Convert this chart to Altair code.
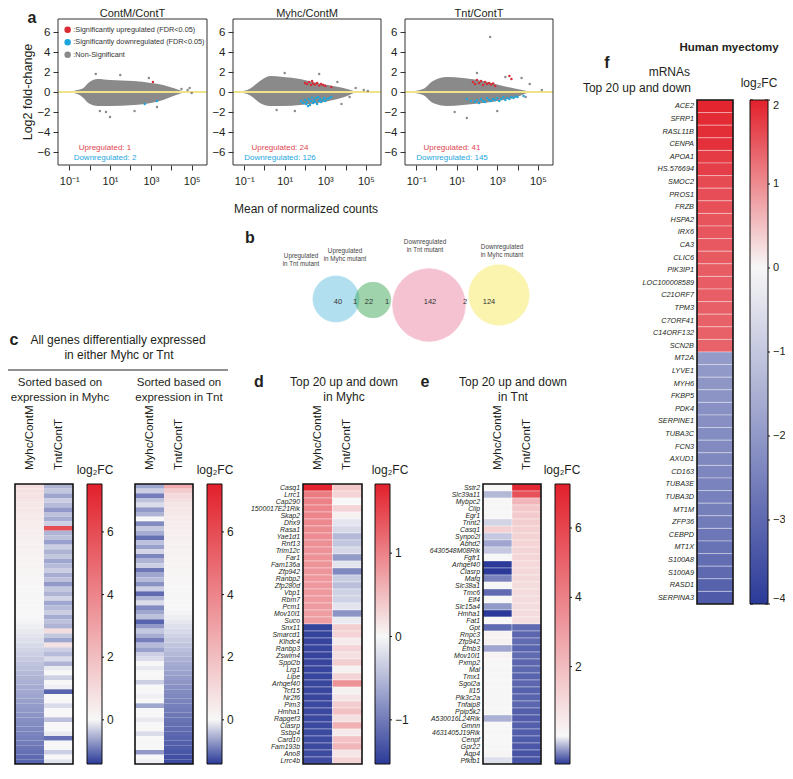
import math
import altair as alt
import pandas as pd

W, H = 777, 757
M = 8
FONT = "Liberation Sans"
INK = "#231f20"
RED, WHITE, BLUE = "#e2202b", "#f7f7f7", "#2b3a98"
MA_RED, MA_BLUE, MA_GRAY = "#d92a35", "#1ea6dc", "#8a8a8a"


def P(v):
    return v - M


# ------------------------------------------------------------------ panel a
ma_titles = ["ContM/ContT", "Myhc/ContM", "Tnt/ContT"]
up_counts = [1, 24, 41]
down_counts = [2, 126, 145]

# gray cloud envelope: log10(mean count), upper / lower log2FC edge
cloud1_e = [-1.1, -0.6, -0.3, -0.07, 0.4, 1.0, 2.15, 3.0, 3.6, 4.1, 4.45, 4.7]
cloud1_hi = [0.0, 0.2, 0.4, 0.9, 1.3, 1.2, 1.1, 0.9, 0.7, 0.4, 0.15, 0.0]
cloud1_lo = [0.0, -0.2, -0.6, -1.1, -1.4, -1.4, -1.3, -1.1, -0.8, -0.4, -0.15, 0.0]
cloud2_e = [-1.3, -0.7, -0.22, 0.28, 0.92, 1.76, 2.6, 3.39, 4.08, 4.4, 4.6]
cloud2_hi = [0.0, 0.35, 1.1, 1.6, 1.5, 1.3, 0.9, 0.6, 0.3, 0.1, 0.0]
cloud2_lo = [0.0, -0.35, -1.1, -1.4, -1.4, -1.3, -1.1, -0.8, -0.4, -0.1, 0.0]
cloud3_e = [-1.45, -0.66, -0.17, 0.52, 1.31, 2.3, 3.29, 3.98, 4.47, 4.7]
cloud3_hi = [0.0, 0.3, 1.1, 1.5, 1.4, 1.1, 0.6, 0.3, 0.1, 0.0]
cloud3_lo = [0.0, -0.3, -1.1, -1.4, -1.3, -1.1, -0.8, -0.5, -0.1, 0.0]

ns1_e = [0.3, 0.5, 0.8, 1.0, 1.5, 2.2, 2.9, 3.3, 4.5, 4.8, 4.9, 5.0]
ns1_fc = [1.8, -1.9, -2.0, -2.5, 1.7, -1.9, 1.4, -1.5, 0.3, 0.2, 0.4, -0.1]
up1_e = [3.1]
up1_fc = [1.0]
dn1_e = [2.7, 3.3]
dn1_fc = [-1.2, -0.9]

ns2_e = [0.6, 1.0, 1.5, 2.7, 3.6, 3.8, 4.2, 4.5, 4.9, 5.1]
ns2_fc = [-1.8, 1.9, -1.9, 1.8, 1.0, -1.2, -0.5, 0.4, 0.2, 0.1]
up2_e = [2.0, 2.1, 2.2, 2.3, 2.35, 2.4, 2.5, 2.6, 2.7, 2.8, 2.9, 3.0, 3.3]
up2_fc = [0.9, 0.8, 1.0, 0.7, 1.1, 0.85, 0.75, 0.9, 0.65, 0.8, 0.7, 0.6, 0.5]
dn2_e = [1.8, 1.9, 2.0, 2.05, 2.1, 2.15, 2.2, 2.25, 2.3, 2.35, 2.4, 2.45, 2.5,
         2.55, 2.6, 2.65, 2.7, 2.75, 2.8, 2.9, 2.95, 3.0, 3.1, 3.2, 3.3]
dn2_fc = [-0.9, -1.1, -0.8, -1.2, -1.0, -1.4, -0.7, -1.3, -0.9, -0.55, -1.1, -0.8, -1.0,
          -0.6, -1.2, -0.5, -0.9, -0.7, -1.0, -0.8, -0.6, -0.9, -0.7, -0.6, -0.5]

ns3_e = [0.9, 1.5, 2.0, 2.65, 3.0, 3.4, 4.2, 4.4, 4.6, 5.2]
ns3_fc = [-2.0, -2.6, 1.9, 5.5, -1.9, 1.5, 1.4, -0.5, 0.8, 0.2]
up3_e = [1.8, 1.9, 2.0, 2.1, 2.2, 2.3, 2.4, 2.5, 2.6, 2.7, 2.8, 2.9, 3.6, 3.7]
up3_fc = [1.0, 0.8, 1.2, 0.9, 1.1, 0.7, 1.0, 0.8, 0.9, 0.75, 0.85, 0.6, 1.6, 1.3]
dn3_e = [1.5, 1.7, 1.9, 2.0, 2.1, 2.2, 2.3, 2.4, 2.5, 2.6, 2.7, 2.8, 2.9,
         3.0, 3.1, 3.2, 3.3, 3.4, 3.5, 3.6, 3.7, 3.8, 3.9, 4.0, 4.3]
dn3_fc = [-0.7, -0.9, -1.0, -0.8, -1.1, -0.7, -0.9, -1.0, -0.6, -0.8, -0.9, -0.7, -0.8,
          -0.6, -0.9, -0.7, -0.5, -0.8, -0.6, -0.7, -0.5, -0.6, -0.45, -0.5, -0.4]

# ------------------------------------------------------------------ panel b
venn_sets = ["Upregulated in Tnt mutant", "Upregulated in Myhc mutant",
             "Downregulated in Tnt mutant", "Downregulated in Myhc mutant"]
venn_colors = ["#67c1e1", "#3fa95b", "#ed87a5", "#f7eb61"]
venn_x = [56, 93, 149, 219]
venn_y = [64, 65, 70, 60]
venn_r = [26, 20, 41, 34]
venn_counts = [40, 1, 22, 1, 142, 2, 124]
venn_count_x = [58, 75, 89, 107, 150, 185, 209]

# ------------------------------------------------------------------ panel c
c1_myhc = [0.9, 0.78, 0.7, 0.63, 0.57, 0.52, 0.47, 0.43, 0.39, 0.35,
           0.32, 0.29, 0.26, 0.23, 0.2, 0.18, 0.16, 0.14, 0.12, 0.1,
           0.08, 0.06, 0.05, 0.04, 0.03, 0.02, 0.01, 0.0, 0.0, -0.02,
           -0.06, -0.1, -0.14, -0.18, -0.22, -0.26, -0.3, -0.34, -0.38, -0.42,
           -0.46, -0.5, -0.53, -0.56, -0.59, -0.62, -0.65, -0.68, -0.71, -0.74,
           -0.77, -0.8, -0.83, -0.86, -0.89, -0.92, -0.96, -1.0, -1.05, -1.1]
c1_tnt = [-0.5, -0.35, -0.6, -0.3, -0.45, -0.7, -0.4, -0.55, -0.3, 6.0,
          -0.5, -0.4, -0.65, -0.3, -0.5, -0.35, -0.6, -0.45, -0.3, -0.55,
          -0.4, -0.7, -0.35, -0.5, -0.25, -0.6, -0.45, -0.3, -0.55, -0.4,
          -0.5, 0.9, -0.35, -0.6, 0.7, -0.3, -0.45, -0.2, -0.5, -0.1,
          0.0, -0.3, 0.0, -0.05, -1.1, 0.0, 0.05, -0.2, 0.0, 0.0,
          -0.4, 0.0, 0.0, -0.1, -1.0, 0.0, 0.05, -0.3, 0.0, -0.15]
c2_myhc = [-0.6, -0.3, -0.9, -0.4, -0.2, -0.7, -0.5, 0.0, -0.8, -0.35,
           -0.55, -1.0, -0.4, -0.65, -0.25, -0.85, -0.5, -0.3, -0.95, -0.6,
           -0.45, -0.75, -0.3, -1.05, -0.5, -0.2, -0.8, -0.6, -0.4, -1.1,
           -0.7, -0.35, -0.55, -0.9, -0.45, -0.65, -0.3, -0.2, 0.0, -0.1,
           0.0, 0.05, -0.3, 0.0, 0.0, -0.05, 0.0, -0.6, 0.0, 0.0,
           -0.1, 0.0, 0.0, -0.2, 0.0, 0.05, 0.0, -0.7, 0.0, -0.05]
c2_tnt = [2.6, 1.5, 1.0, 0.8, 0.65, 0.55, 0.48, 0.42, 0.37, 0.33,
          0.3, 0.27, 0.24, 0.21, 0.19, 0.17, 0.15, 0.13, 0.11, 0.09,
          0.07, 0.05, 0.04, 0.03, 0.02, 0.01, 0.0, -0.03, -0.07, -0.12,
          -0.17, -0.22, -0.27, -0.32, -0.37, -0.42, -0.47, -0.52, -0.56, -0.6,
          -0.64, -0.68, -0.72, -0.76, -0.8, -0.83, -0.86, -0.89, -0.92, -0.95,
          -0.98, -1.01, -1.04, -1.07, -1.1, -1.13, -1.16, -1.2, -1.25, -1.3]

# ------------------------------------------------------------------ panel d
d_genes = ["Casq1", "Lrrc1", "Cap290", "1500017E21Rik", "Skap2", "Dhx9", "Rasa1", "Yae1d1",
           "Rnf13", "Trim12c", "Far1", "Fam136a", "Zfp942", "Ranbp2", "Zfp280d", "Vbp1",
           "Rbm7", "Pcm1", "Mov10l1", "Suco", "Snx11", "Smarcd1", "Klhdc4", "Ranbp3",
           "Zswim4", "Sppl2b", "Lrg1", "Lipe", "Arhgef40", "Tcf15", "Nr2f6", "Pim3",
           "Hmha1", "Rapgef3", "Clasrp", "Ssbp4", "Card10", "Fam193b", "Ano8", "Lrrc4b"]
d_myhc = [1.8, 1.05, 1.0, 0.98, 0.96, 0.94, 0.92, 0.9, 0.88, 0.86,
          0.85, 0.84, 0.83, 0.82, 0.81, 0.8, 0.79, 0.78, 0.77, 0.76,
          -1.46, -1.46, -1.45, -1.45, -1.45, -1.44, -1.44, -1.44, -1.43, -1.43,
          -1.43, -1.42, -1.42, -1.42, -1.41, -1.41, -1.4, -1.4, -1.4, -1.39]
d_tnt = [0.4, 0.3, 0.0, 0.3, 0.05, -0.15, -0.25, -0.5, -0.4, -0.25,
         -0.75, -0.15, -0.9, -0.35, -0.45, -0.3, -0.3, -0.15, -0.8, -0.1,
         0.35, 0.3, 0.1, 0.3, 0.2, 0.35, 0.05, 0.3, 0.85, 0.05,
         0.15, 0.35, 0.45, 0.2, 0.6, 0.1, 0.45, 0.55, 0.15, 0.3]

# ------------------------------------------------------------------ panel e
e_genes = ["Sstr2", "Slc39a11", "Mybpc2", "Cilp", "Egr1", "Tnnt2", "Casq1", "Synpo2l",
           "Abhd2", "6430548M08Rik", "Fgfr1", "Arhgef40", "Clasrp", "Mafg", "Slc38a1",
           "Tmc6", "Elf4", "Slc15a4", "Hmha1", "Fat1", "Gpt", "Rnpc3", "Zfp942", "Efnb3",
           "Mov10l1", "Pxmp2", "Mal", "Tmx1", "Sgol2a", "Il15", "Pik3c2a", "Tnfaip8",
           "Ppip5k2", "A530016L24Rik", "Gmnn", "4631405J19Rik", "Cenpf", "Gpr22", "Aqp4",
           "Pfkfb1"]
e_myhc = [0.0, -0.27, 0.02, 0.03, 0.0, -0.15, 1.3, -0.2, -0.35, -0.2,
          0.0, -0.9, -0.9, -0.5, 0.02, -0.6, 0.0, -0.4, -0.9, 0.0,
          -0.6, 0.15, 0.2, -0.35, 0.15, 0.05, 0.02, 0.05, 0.03, 0.05,
          0.05, 0.05, 0.05, -0.3, 0.0, 0.05, 0.0, 0.05, 0.1, -0.1]
e_tnt = [7.0, 5.6, 2.2, 1.6, 1.5, 1.4, 1.3, 1.25, 1.2, 1.15,
         1.1, 1.05, 1.0, 1.0, 0.95, 0.95, 0.9, 0.9, 0.9, 0.85,
         -0.6, -0.62, -0.6, -0.63, -0.6, -0.62, -0.61, -0.63, -0.62, -0.64,
         -0.63, -0.62, -0.65, -0.66, -0.65, -0.66, -0.67, -0.68, -0.7, -0.7]

# ------------------------------------------------------------------ panel f
f_genes = ["ACE2", "SFRP1", "RASL11B", "CENPA", "APOA1", "HS.576694", "SMOC2", "PROS1",
           "FRZB", "HSPA2", "IRX6", "CA3", "CLIC6", "PIK3IP1", "LOC100008589", "C21ORF7",
           "TPM3", "C7ORF41", "C14ORF132", "SCN2B", "MT2A", "LYVE1", "MYH6", "FKBP5",
           "PDK4", "SERPINE1", "TUBA3C", "FCN3", "AXUD1", "CD163", "TUBA3E", "TUBA3D",
           "MT1M", "ZFP36", "CEBPD", "MT1X", "S100A8", "S100A9", "RASD1", "SERPINA3"]
f_fc = [1.95, 1.9, 1.88, 1.85, 1.75, 1.72, 1.6, 1.58, 1.55, 1.52,
        1.5, 1.48, 1.46, 1.44, 1.43, 1.42, 1.41, 1.4, 1.4, 1.39,
        -1.95, -2.0, -2.05, -2.1, -2.15, -2.2, -2.25, -2.3, -2.35, -2.4,
        -2.45, -2.5, -2.55, -2.6, -2.7, -2.8, -2.9, -3.0, -3.15, -3.3]


# ================================================================== helpers
def txt(text, x, y, size=12, weight="normal", align="center", baseline="middle",
        angle=0, color=INK, style="normal"):
    props = dict(fontSize=size, fontWeight=weight, align=align, baseline=baseline,
                 color=color, font=FONT)
    if angle:
        props["angle"] = angle
    if style != "normal":
        props["fontStyle"] = style
    return (alt.Chart(pd.DataFrame({"t": [text]}))
            .mark_text(**props)
            .encode(x=alt.value(P(x)), y=alt.value(P(y)), text="t:N"))


MA_XDOM = [10 ** -1.55, 10 ** 5.75]
MA_YDOM = [-7.3, 7.3]
MA_TOP, MA_BOT = 19, 165
CAT_UP = ":Significantly upregulated (FDR<0.05)"
CAT_DN = ":Significantly downregulated (FDR<0.05)"
CAT_NS = ":Non-Significant"
XLAB = ("datum.value < 0.5 ? '10\u207b\u00b9' : (datum.value > 5 && datum.value < 50) ? '10\u00b9' : "
        "(datum.value > 500 && datum.value < 5000) ? '10\u00b3' : datum.value > 50000 ? '10\u2075' : ''")


def ma_panel(x0, x1, ce, chi, clo, ns_e, ns_fc, up_e, up_fc, dn_e, dn_fc, legend):
    xs = alt.Scale(type="log", domain=MA_XDOM, range=[P(x0), P(x1)], nice=False)
    ys = alt.Scale(domain=MA_YDOM, range=[P(MA_BOT), P(MA_TOP)], nice=False, zero=False)
    cloud = pd.DataFrame({"m": [10 ** v for v in ce], "hi": chi, "lo": clo})
    area = alt.Chart(cloud).mark_area(color=MA_GRAY, interpolate="monotone").encode(
        x=alt.X("m:Q", scale=xs, axis=None),
        y=alt.Y("hi:Q", scale=ys, axis=None), y2="lo:Q")
    base = pd.DataFrame({"m": [MA_XDOM[0]], "m2": [MA_XDOM[1]], "fc": [0.0]})
    zero = alt.Chart(base).mark_rule(color="#f1e38a", strokeWidth=2.2).encode(
        x=alt.X("m:Q", scale=xs, axis=None), x2="m2:Q",
        y=alt.Y("fc:Q", scale=ys, axis=None))
    pts = pd.DataFrame({
        "m": [10 ** v for v in ns_e + up_e + dn_e],
        "fc": ns_fc + up_fc + dn_fc,
        "cat": [CAT_NS] * len(ns_e) + [CAT_UP] * len(up_e) + [CAT_DN] * len(dn_e)})
    cscale = alt.Scale(domain=[CAT_UP, CAT_DN, CAT_NS], range=[MA_RED, MA_BLUE, MA_GRAY])
    if legend:
        leg = alt.Legend(orient="none", legendX=P(64), legendY=P(26), title=None,
                         symbolSize=42, symbolType="circle", labelFontSize=7.3,
                         labelOffset=2, rowPadding=4.5, padding=0, labelColor="#333",
                         labelFont=FONT, symbolStrokeWidth=0)
        color = alt.Color("cat:N", scale=cscale, legend=leg)
    else:
        color = alt.Color("cat:N", scale=cscale, legend=None)
    points = alt.Chart(pts).mark_circle(size=6, opacity=1).encode(
        x=alt.X("m:Q", scale=xs, axis=None),
        y=alt.Y("fc:Q", scale=ys, axis=None), color=color)
    box = pd.DataFrame({"m": [MA_XDOM[0]], "m2": [MA_XDOM[1]],
                        "lo": [MA_YDOM[0]], "hi": [MA_YDOM[1]]})
    frame = alt.Chart(box).mark_rect(filled=False, color="#333", strokeWidth=1).encode(
        x=alt.X("m:Q", scale=xs, axis=alt.Axis(
            orient="bottom", offset=-(H - P(MA_BOT)), values=[0.1, 1, 10, 100, 1000, 10000, 100000],
            labelExpr=XLAB, grid=False, domain=False, tickSize=5, tickColor="#333",
            labelFontSize=11, labelPadding=5, labelFlush=False, labelOverlap=False,
            labelColor=INK, title=None)),
        x2="m2:Q",
        y=alt.Y("lo:Q", scale=ys, axis=alt.Axis(
            orient="left", offset=-P(x0), values=[-6, -4, -2, 0, 2, 4, 6], grid=False,
            domain=False, tickSize=5, tickColor="#333", labelFontSize=11.5, labelPadding=3,
            labelColor=INK, title=None)),
        y2="hi:Q")
    return [area, zero, points, frame]


def heatmap(cols, genes, colnames, box, cbar, dom, ticks, gene_size=6.9, sep=True,
            label_size=12):
    x0, x1, y0, y1 = box
    n = len(cols[0])
    nc = len(cols)
    recs = []
    for ci, col in enumerate(cols):
        for ri, v in enumerate(col):
            recs.append({"c0": ci, "c1": ci + 1, "r0": ri, "r1": ri + 1, "v": v})
    df = pd.DataFrame(recs)
    xs = alt.Scale(domain=[0, nc], range=[P(x0), P(x1)], nice=False, zero=False)
    ys = alt.Scale(domain=[0, n], range=[P(y0), P(y1)], nice=False, zero=False)
    cs = alt.Scale(domain=[dom[0], 0, dom[1]], range=[BLUE, WHITE, RED],
                   interpolate="rgb", clamp=True)
    leg = alt.Legend(orient="none", legendX=P(cbar[0]), legendY=P(y0), direction="vertical",
                     gradientLength=y1 - y0, gradientThickness=cbar[1] - cbar[0], values=ticks,
                     format="d", title=None, labelFontSize=label_size, labelOffset=5,
                     labelColor=INK, labelFont=FONT, gradientStrokeColor="#111",
                     gradientStrokeWidth=1, padding=0, labelOverlap=False)
    if sep:
        mk = dict(stroke="#ffffff", strokeWidth=0.5, strokeOpacity=0.7)
    else:
        mk = dict(strokeWidth=0)
    cells = alt.Chart(df).mark_rect(**mk).encode(
        x=alt.X("c0:Q", scale=xs, axis=None), x2="c1:Q",
        y=alt.Y("r0:Q", scale=ys, axis=None), y2="r1:Q",
        color=alt.Color("v:Q", scale=cs, legend=leg))
    out = [cells]
    fdf = pd.DataFrame({"c0": [0], "c1": [nc], "r0": [0], "r1": [n]})
    out.append(alt.Chart(fdf).mark_rect(filled=False, color="#111", strokeWidth=1.6).encode(
        x=alt.X("c0:Q", scale=xs, axis=None), x2="c1:Q",
        y=alt.Y("r0:Q", scale=ys, axis=None), y2="r1:Q"))
    # small tick marks on the colour bar at the labelled values
    cby = alt.Scale(domain=[dom[0], dom[1]], range=[P(y1), P(y0)], nice=False, zero=False)
    tdf = pd.DataFrame({"v": ticks})
    for (a, b) in [(cbar[0], cbar[0] + 3), (cbar[1] - 3, cbar[1] + 2)]:
        out.append(alt.Chart(tdf).mark_rule(color="#111", strokeWidth=1).encode(
            x=alt.value(P(a)), x2=alt.value(P(b)),
            y=alt.Y("v:Q", scale=cby, axis=None)))
    if genes:
        gdf = pd.DataFrame({"g": genes, "c": [0] * len(genes),
                            "r": [i + 0.5 for i in range(len(genes))]})
        out.append(alt.Chart(gdf).mark_text(
            align="right", baseline="middle", dx=-3, fontStyle="italic",
            fontSize=gene_size, color=INK, font=FONT).encode(
            x=alt.X("c:Q", scale=xs, axis=None), y=alt.Y("r:Q", scale=ys, axis=None),
            text="g:N"))
    if colnames:
        cdf = pd.DataFrame({"t": colnames, "c": [i + 0.5 for i in range(nc)], "r": [0] * nc})
        out.append(alt.Chart(cdf).mark_text(
            angle=270, align="left", baseline="middle", dx=14, fontSize=11.5,
            color=INK, font=FONT).encode(
            x=alt.X("c:Q", scale=xs, axis=None), y=alt.Y("r:Q", scale=ys, axis=None),
            text="t:N"))
    return out


layers = []

# ---------------- panel a
ma_x = [(58, 207), (233, 381), (405, 553)]
ma_data = [
    (cloud1_e, cloud1_hi, cloud1_lo, ns1_e, ns1_fc, up1_e, up1_fc, dn1_e, dn1_fc),
    (cloud2_e, cloud2_hi, cloud2_lo, ns2_e, ns2_fc, up2_e, up2_fc, dn2_e, dn2_fc),
    (cloud3_e, cloud3_hi, cloud3_lo, ns3_e, ns3_fc, up3_e, up3_fc, dn3_e, dn3_fc),
]
for i, ((x0, x1), d) in enumerate(zip(ma_x, ma_data)):
    layers += ma_panel(x0, x1, *d, legend=(i == 0))
    layers.append(txt(ma_titles[i], (x0 + x1) / 2, 13.5, 11))
    layers.append(txt(f"Upregulated: {up_counts[i]}", x0 + 47, 147.5, 8, color="#e0444f"))
    layers.append(txt(f"Downregulated: {down_counts[i]}", x0 + 47, 157.5, 8, color="#25a6de"))
layers.append(txt("a", 32, 18, 16, "bold"))
layers.append(txt("Log2 fold-change", 28, 92, 12.5, angle=270))
layers.append(txt("Mean of normalized counts", 306, 209, 12))

# ---------------- panel b
vxs = alt.Scale(domain=[0, 260], range=[P(280), P(540)], nice=False, zero=False)
vys = alt.Scale(domain=[0, 110], range=[P(235), P(345)], nice=False, zero=False)
venn_df = pd.DataFrame({"set": venn_sets, "vx": venn_x, "vy": venn_y,
                        "area": [math.pi * r * r for r in venn_r]})
vcol = alt.Scale(domain=venn_sets, range=venn_colors)
layers.append(alt.Chart(venn_df).mark_circle(opacity=0.5, strokeWidth=0.8).encode(
    x=alt.X("vx:Q", scale=vxs, axis=None), y=alt.Y("vy:Q", scale=vys, axis=None),
    size=alt.Size("area:Q", scale=None, legend=None),
    color=alt.Color("set:N", scale=vcol, legend=None),
    stroke=alt.Stroke("set:N", scale=vcol, legend=None)))
cnt_df = pd.DataFrame({"n": [str(v) for v in venn_counts], "vx": venn_count_x,
                       "vy": [67] * len(venn_counts)})
layers.append(alt.Chart(cnt_df).mark_text(fontSize=7.5, color="#333", font=FONT).encode(
    x=alt.X("vx:Q", scale=vxs, axis=None), y=alt.Y("vy:Q", scale=vys, axis=None), text="n:N"))
layers.append(txt("b", 250, 238, 16, "bold"))
for (l1, l2, x, y) in [("Upregulated", "in Tnt mutant", 301, 256),
                       ("Upregulated", "in Myhc mutant", 345, 251),
                       ("Downregulated", "in Tnt mutant", 425, 242),
                       ("Downregulated", "in Myhc mutant", 502, 247)]:
    layers.append(txt(l1, x, y, 6.3, color="#444"))
    layers.append(txt(l2, x, y + 7.5, 6.3, color="#444"))

# ---------------- panel c
HT, HB = 484, 764
layers += heatmap([c1_myhc, c1_tnt], None, ["Myhc/ContM", "Tnt/ContT"],
                  (15, 73, HT, HB), (87, 102), (-1.41, 7.53), [6, 4, 2, 0], sep=False)
layers += heatmap([c2_myhc, c2_tnt], None, ["Myhc/ContM", "Tnt/ContT"],
                  (135, 193, HT, HB), (207, 222), (-1.41, 7.53), [6, 4, 2, 0], sep=False)
layers.append(txt("c", 14, 340, 16, "bold"))
layers.append(txt("All genes differentially expressed", 118, 340, 12))
layers.append(txt("in either Myhc or Tnt", 119, 355, 12))
layers.append(alt.Chart(pd.DataFrame({"a": [0]})).mark_rule(color="#222", strokeWidth=1).encode(
    x=alt.value(P(8)), x2=alt.value(P(228)), y=alt.value(P(370))))
layers.append(txt("Sorted based on", 60, 383, 11.5))
layers.append(txt("expression in Myhc", 60, 398, 11.5))
layers.append(txt("Sorted based on", 179, 383, 11.5))
layers.append(txt("expression in Tnt", 179, 398, 11.5))
layers.append(txt("log\u2082FC", 95, 470, 12))
layers.append(txt("log\u2082FC", 215, 470, 12))

# ---------------- panel d
layers += heatmap([d_myhc, d_tnt], d_genes, ["Myhc/ContM", "Tnt/ContT"],
                  (303, 362, HT, HB), (375, 390), (-1.53, 1.83), [1, 0, -1])
layers.append(txt("d", 259, 382, 16, "bold"))
layers.append(txt("Top 20 up and down", 344, 382, 12))
layers.append(txt("in Myhc", 344, 397, 12))
layers.append(txt("log\u2082FC", 390, 470, 12))

# ---------------- panel e
layers += heatmap([e_myhc, e_tnt], e_genes, ["Myhc/ContM", "Tnt/ContT"],
                  (483, 541, HT, HB), (555, 570), (-0.81, 7.27), [6, 4, 2])
layers.append(txt("e", 425, 382, 16, "bold"))
layers.append(txt("Top 20 up and down", 513, 382, 12))
layers.append(txt("in Tnt", 513, 397, 12))
layers.append(txt("log\u2082FC", 562, 470, 12))

# ---------------- panel f
layers += heatmap([f_fc], f_genes, None, (697, 733, 100, 604), (750, 768),
                  (-4.0, 2.0), [2, 1, 0, -1, -2, -3, -4], gene_size=7.3, label_size=11)
layers.append(txt("Human myectomy", 729, 48, 11.5, "bold"))
layers.append(txt("f", 607, 63, 16, "bold"))
layers.append(txt("mRNAs", 690, 72, 12, align="right"))
layers.append(txt("Top 20 up and down", 691, 88, 12, align="right"))
layers.append(txt("log\u2082FC", 759, 83, 12))

chart = (alt.layer(*layers)
         .resolve_scale(x="independent", y="independent", color="independent",
                        size="independent", stroke="independent")
         .properties(width=W, height=H, padding=0, autosize=alt.AutoSizeParams(type="none"))
         .configure(font=FONT)
         .configure_view(stroke=None))

chart.save("out.html", embed_options={"renderer": "svg", "actions": False})
